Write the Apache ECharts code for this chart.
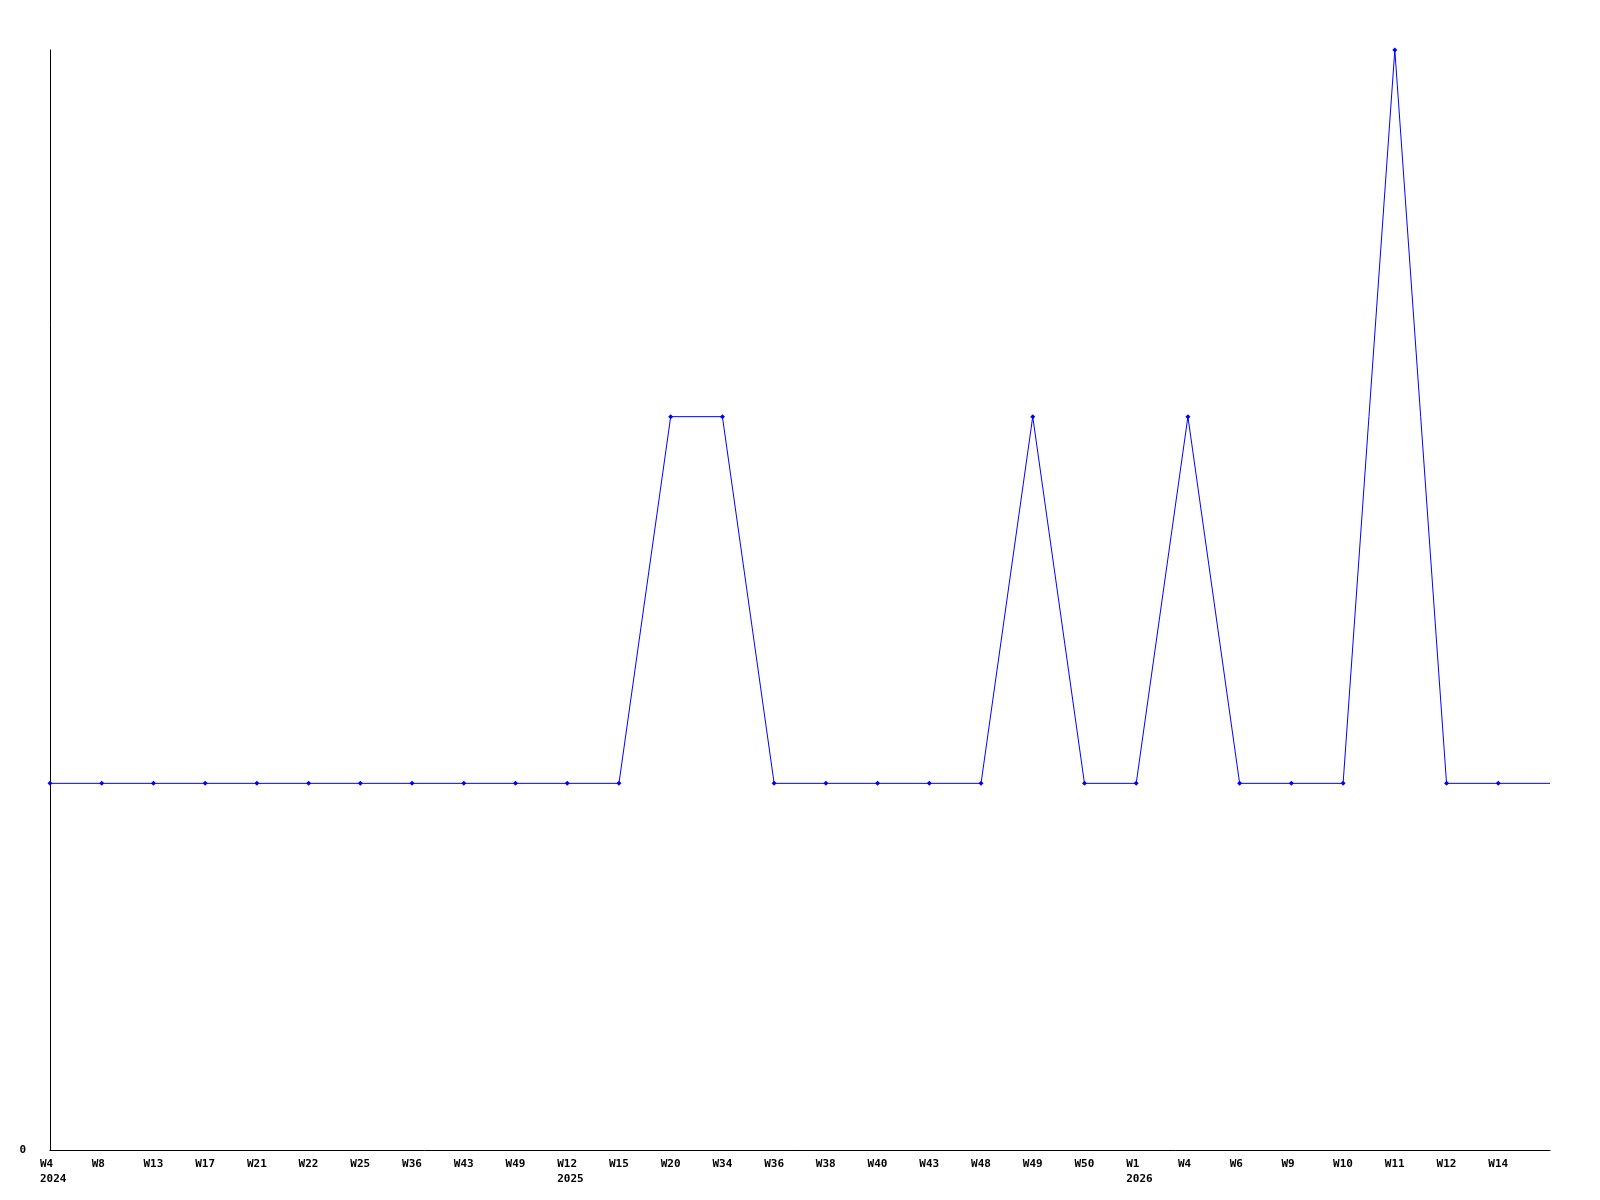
<!DOCTYPE html>
<html>
<head>
<meta charset="utf-8">
<script src="https://cdn.jsdelivr.net/npm/echarts@6/dist/echarts.min.js"></script>
<style>html,body{margin:0;padding:0;background:#fff}#c{width:1600px;height:1200px}</style>
</head>
<body>
<div id="c"></div>
<script>
var weekLabels = ['W4','W8','W13','W17','W21','W22','W25','W36','W43','W49','W12','W15','W20','W34','W36','W38','W40','W43','W48','W49','W50','W1','W4','W6','W9','W10','W11','W12','W14',''];
var yearLabels = ['2024','','','','','','','','','','2025','','','','','','','','','','','2026','','','','','','','',''];
var values = [1,1,1,1,1,1,1,1,1,1,1,1,2,2,1,1,1,1,1,2,1,1,2,1,1,1,3,1,1,1];
var yTickLabels = ['0'];

var font = 'DejaVu Sans Mono';
var seriesData = values.map(function(v, i){
  return i === values.length - 1 ? {value: v, symbol: 'none'} : v;
});
var chart = echarts.init(document.getElementById('c'));
chart.setOption({
  animation: false,
  backgroundColor: '#ffffff',
  grid: {left: 50, right: 50, top: 50, bottom: 50},
  xAxis: {
    type: 'category',
    data: weekLabels,
    boundaryGap: false,
    axisLine: {lineStyle: {color: '#000', width: 1}},
    axisTick: {show: false},
    axisLabel: {
      interval: 0,
      margin: 7,
      align: 'center',
      formatter: function(v, i){
        var y = yearLabels[i];
        return '{a|' + v + '}' + (y ? '\n{a|' + y + '}' : '');
      },
      rich: {a: {width: 20, align: 'left', fontFamily: font, fontWeight: 'bold', fontSize: 11, color: '#000', lineHeight: 15}}
    },
    splitLine: {show: false}
  },
  yAxis: {
    type: 'value',
    min: 0, max: 3, interval: 3,
    axisLine: {show: true, lineStyle: {color: '#000', width: 1}},
    axisTick: {show: false},
    splitLine: {show: false},
    axisLabel: {
      margin: 24,
      fontFamily: font, fontWeight: 'bold', fontSize: 11, color: '#000',
      formatter: function(v){ return v === 0 ? yTickLabels[0] : ''; }
    }
  },
  series: [{
    type: 'line',
    data: seriesData,
    symbol: 'diamond',
    symbolSize: 5,
    showAllSymbol: true,
    lineStyle: {color: '#0000ff', width: 1},
    itemStyle: {color: '#0000ff'}
  }]
});
</script>
</body>
</html>
